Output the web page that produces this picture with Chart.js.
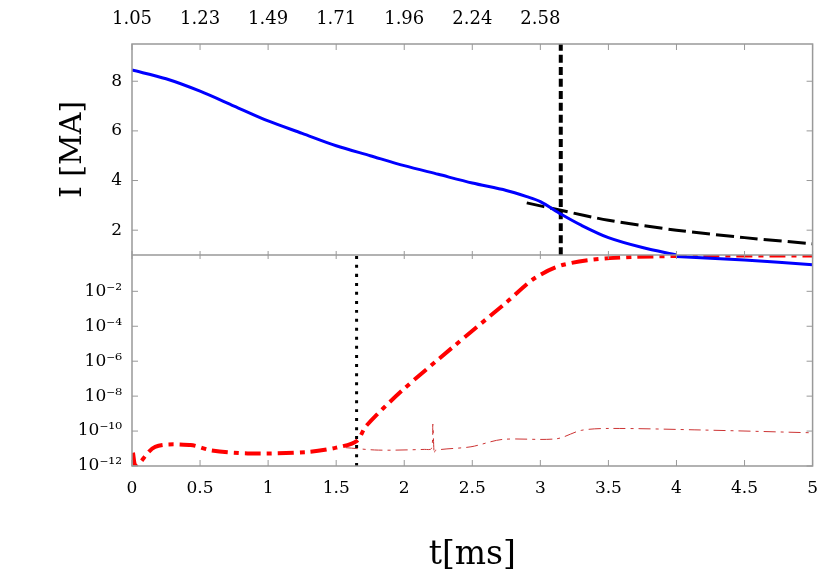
<!DOCTYPE html><html><head><meta charset="utf-8">
<script src="https://cdn.jsdelivr.net/npm/chart.js@4"></script>
<style>body{margin:0;background:#fff}#w{width:830px;height:579px}</style></head><body><div id="w"><canvas id="c"></canvas></div>
<script>
const blueT=[0,0.25,0.5,0.75,1.0,1.25,1.5,1.75,2.0,2.25,2.5,2.75,2.9,3.0,3.15,3.3,3.5,3.75,4.0];
const blueI=[8.45,8.1,7.6,7.0,6.4,5.9,5.4,5.0,4.6,4.25,3.9,3.6,3.35,3.15,2.65,2.2,1.7,1.3,1.0];
const blueLowT=[4.0,4.5,5.0];
const blueLowV=[1.0,0.62,0.33];
const blackT=[2.9,3.15,3.5,4.0,4.5,5.0];
const blackI=[3.1,2.8,2.4,2.0,1.7,1.45];
const redT=[0.007,0.03,0.17,0.43,0.58,0.85,1.29,1.5,1.65,1.72,1.98,2.35,2.76,2.96,3.17,3.51,4.19,5.0];
const redExp=[-11.24,-12.0,-10.9,-10.8,-11.1,-11.28,-11.2,-10.95,-10.57,-9.71,-7.71,-5.24,-2.57,-1.24,-0.48,-0.1,0.04,0.05];
const thinT=[1.57,1.81,2.15,2.2,2.21,2.22,2.23,2.49,2.72,3.12,3.3,3.51,4.19,5.0];
const thinExp=[-10.95,-11.09,-11.05,-11.0,-9.6,-11.3,-11.1,-10.9,-10.48,-10.44,-9.96,-9.85,-9.94,-10.1];
const topTickPos=[0,0.5,1,1.5,2,2.5,3];
const topTickLabels=['1.05','1.23','1.49','1.71','1.96','2.24','2.58'];
const logExps=[-12,-10,-8,-6,-4,-2];
const vDashT=3.15, vDotT=1.65;
const sup={'-':'⁻','0':'⁰','1':'¹','2':'²','3':'³','4':'⁴','5':'⁵','6':'⁶','7':'⁷','8':'⁸','9':'⁹'};
const pts=(xs,ys)=>xs.map((x,i)=>({x,y:ys[i]}));
const F='"DejaVu Serif","Liberation Serif",serif';
const frame={id:'frame',afterDatasetsDraw(ch){const c=ch.ctx,a=ch.chartArea,x=ch.scales.x,y=ch.scales.y,y2=ch.scales.y2;
c.save();c.strokeStyle='#999';c.lineWidth=1.5;c.strokeRect(a.left,a.top,a.right-a.left,a.bottom-a.top);
c.beginPath();c.moveTo(a.left,y.bottom);c.lineTo(a.right,y.bottom);c.stroke();
c.lineWidth=1;c.beginPath();
for(let v=0;v<=5.001;v+=0.5){const p=x.getPixelForValue(v);c.moveTo(p,a.bottom);c.lineTo(p,a.bottom-6);c.moveTo(p,a.top);c.lineTo(p,a.top+6);c.moveTo(p,y.bottom-4);c.lineTo(p,y.bottom+4);}
[2,4,6,8].forEach(v=>{const p=y.getPixelForValue(v);c.moveTo(a.left,p);c.lineTo(a.left+6,p);c.moveTo(a.right,p);c.lineTo(a.right-6,p);});
logExps.forEach(e=>{const p=y2.getPixelForValue(Math.pow(10,e));c.moveTo(a.left,p);c.lineTo(a.left+6,p);c.moveTo(a.right,p);c.lineTo(a.right-6,p);});
c.stroke();c.restore();}};
new Chart(document.getElementById('c'),{type:'line',
data:{datasets:[
{data:pts(blueT,blueI),yAxisID:'y',borderColor:'#0000ff',borderWidth:3},
{data:pts(blackT,blackI),yAxisID:'y',borderColor:'#000',borderWidth:3,borderDash:[18,6]},
{data:[{x:vDashT,y:1},{x:vDashT,y:9.5}],yAxisID:'y',borderColor:'#000',borderWidth:4,borderDash:[8,4]},
{data:pts(blueLowT,blueLowV),yAxisID:'y2',borderColor:'#0000ff',borderWidth:3},
{data:pts(redT,redExp.map(e=>Math.pow(10,e))),yAxisID:'y2',borderColor:'#ff0000',borderWidth:4,borderDash:[16,6,5,6]},
{data:pts(thinT,thinExp.map(e=>Math.pow(10,e))),yAxisID:'y2',borderColor:'#cc3333',borderWidth:1,borderDash:[12,5,3,5]},
{data:[{x:vDotT,y:1e-12},{x:vDotT,y:1.2}],yAxisID:'y2',borderColor:'#000',borderWidth:3,borderDash:[3,6]}
]},
options:{responsive:true,maintainAspectRatio:false,animation:false,layout:{padding:{left:0,right:14,top:0,bottom:0}},
elements:{point:{radius:0},line:{tension:0.3,fill:false}},
plugins:{legend:{display:false},tooltip:{enabled:false}},
scales:{
x:{type:'linear',min:0,max:5,position:'bottom',grid:{display:false,drawTicks:false},border:{display:false},
 afterBuildTicks:s=>{s.ticks=[0,0.5,1,1.5,2,2.5,3,3.5,4,4.5,5].map(v=>({value:v}));},
 ticks:{color:'#000',font:{family:F,size:17},padding:12,callback:v=>String(v)},
 title:{display:true,text:'t[ms]',color:'#000',font:{family:F,size:33},padding:{top:14}},
 afterFit:s=>{s.height=113;}},
x2:{type:'linear',min:0,max:5,position:'top',grid:{display:false,drawTicks:false},border:{display:false},
 afterBuildTicks:s=>{s.ticks=topTickPos.map(v=>({value:v}));},
 ticks:{color:'#000',font:{family:F,size:18},padding:14,callback:(v,i)=>topTickLabels[i]},
 afterFit:s=>{s.height=44;}},
y2:{type:'logarithmic',min:1e-12,max:1.2,position:'left',stack:'v',stackWeight:1,offset:false,grid:{display:false,drawTicks:false},border:{display:false},
 afterBuildTicks:s=>{s.ticks=logExps.map(e=>({value:Math.pow(10,e)}));},
 ticks:{color:'#000',font:{family:F,size:17},padding:10,callback:v=>{const e=Math.round(Math.log10(v));return '10'+String(e).split('').map(ch=>sup[ch]).join('');}},
 afterFit:s=>{s.width=132;}},
y:{type:'linear',min:1,max:9.5,position:'left',stack:'v',stackWeight:1,grid:{display:false,drawTicks:false},border:{display:false},
 afterBuildTicks:s=>{s.ticks=[2,4,6,8].map(v=>({value:v}));},
 ticks:{color:'#000',font:{family:F,size:17},padding:10},
 title:{display:true,text:'I [MA]',color:'#000',font:{family:F,size:30},padding:{top:55,bottom:0}},
 afterFit:s=>{s.width=132;}}
}},plugins:[frame]});
</script></body></html>
